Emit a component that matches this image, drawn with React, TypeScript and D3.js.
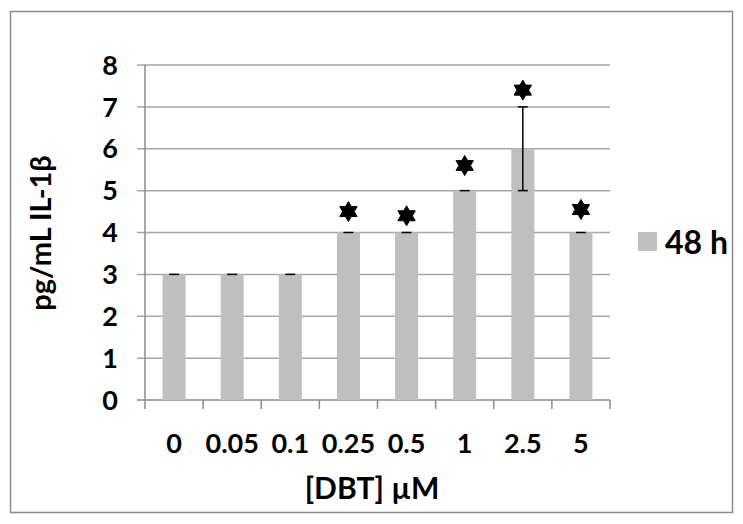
import React, { useEffect, useRef } from "react";
import * as d3 from "d3";

// chart values
const doses = ["0", "0.05", "0.1", "0.25", "0.5", "1", "2.5", "5"];
const values = [3, 3, 3, 4, 4, 5, 6, 4];
const errors = [0, 0, 0, 0, 0, 0, 1, 0];
// star marker heights (in y units), null = no star
const stars = [null, null, null, 4.5, 4.4, 5.6, 7.4, 4.55];
const yTicks = [0, 1, 2, 3, 4, 5, 6, 7, 8];
const seriesName = "48 h";

const FONT = "Lato, 'Open Sans', sans-serif";

export default function App() {
  const ref = useRef<SVGSVGElement>(null);

  useEffect(() => {
    const svg = d3.select(ref.current);
    svg.selectAll("*").remove();

    const left = 145,
      right = 610,
      top = 65,
      bottom = 400;

    // Outer frame
    svg
      .append("rect")
      .attr("x", 10.5)
      .attr("y", 11.5)
      .attr("width", 722)
      .attr("height", 501)
      .attr("fill", "white")
      .attr("stroke", "#8c8c8c")
      .attr("stroke-width", 1.5);

    const x = d3.scaleBand().domain(doses).range([left, right]).paddingInner(0);
    const y = d3.scaleLinear().domain([0, 8]).range([bottom, top]);

    // Gridlines with tick extensions
    svg
      .append("g")
      .selectAll("line")
      .data(yTicks)
      .join("line")
      .attr("x1", left - 8)
      .attr("x2", right)
      .attr("y1", (d) => y(d))
      .attr("y2", (d) => y(d))
      .attr("stroke", (d) => (d === 0 ? "#8c8c8c" : "#a6a6a6"))
      .attr("stroke-width", 1.5);

    // Y axis line
    svg
      .append("line")
      .attr("x1", left)
      .attr("x2", left)
      .attr("y1", top)
      .attr("y2", bottom)
      .attr("stroke", "#8c8c8c")
      .attr("stroke-width", 1.5);

    // X axis ticks at band boundaries
    const bounds = doses.map((d) => x(d)!).concat([right]);
    svg
      .append("g")
      .selectAll("line")
      .data(bounds)
      .join("line")
      .attr("x1", (d) => d)
      .attr("x2", (d) => d)
      .attr("y1", bottom)
      .attr("y2", bottom + 9)
      .attr("stroke", "#8c8c8c")
      .attr("stroke-width", 1.5);

    // Y tick labels
    svg
      .append("g")
      .selectAll("text")
      .data(yTicks)
      .join("text")
      .attr("x", 118)
      .attr("y", (d) => y(d))
      .attr("dy", "0.36em")
      .attr("text-anchor", "end")
      .attr("font-family", FONT)
      .attr("font-weight", "bold")
      .attr("font-size", 27)
      .text((d) => d);

    // X tick labels
    svg
      .append("g")
      .selectAll("text")
      .data(doses)
      .join("text")
      .attr("x", (d) => x(d)! + x.bandwidth() / 2)
      .attr("y", 453)
      .attr("text-anchor", "middle")
      .attr("font-family", FONT)
      .attr("font-weight", "bold")
      .attr("font-size", 27)
      .text((d) => d);

    // Axis titles
    svg
      .append("text")
      .attr("x", 372)
      .attr("y", 499)
      .attr("text-anchor", "middle")
      .attr("font-family", FONT)
      .attr("font-weight", "bold")
      .attr("font-size", 30)
      .text("[DBT] µM");

    svg
      .append("text")
      .attr("transform", "translate(51, 233) rotate(-90)")
      .attr("text-anchor", "middle")
      .attr("font-family", FONT)
      .attr("font-weight", "bold")
      .attr("font-size", 29)
      .text("pg/mL IL-1β");

    // Bars
    const barW = 23;
    svg
      .append("g")
      .selectAll("rect")
      .data(values)
      .join("rect")
      .attr("x", (d, i) => x(doses[i])! + x.bandwidth() / 2 - barW / 2)
      .attr("y", (d) => y(d))
      .attr("width", barW)
      .attr("height", (d) => y(0) - y(d))
      .attr("fill", "#bfbfbf");

    // Error bars
    const eb = svg.append("g").attr("stroke", "black").attr("stroke-width", 1.5);
    values.forEach((v, i) => {
      const cx = x(doses[i])! + x.bandwidth() / 2;
      const e = errors[i];
      if (e > 0) {
        eb.append("line")
          .attr("x1", cx)
          .attr("x2", cx)
          .attr("y1", y(v - e))
          .attr("y2", y(v + e));
        eb.append("line")
          .attr("x1", cx - 5)
          .attr("x2", cx + 5)
          .attr("y1", y(v - e))
          .attr("y2", y(v - e));
      }
      eb.append("line")
        .attr("x1", cx - 5)
        .attr("x2", cx + 5)
        .attr("y1", y(v + e))
        .attr("y2", y(v + e));
    });

    // Six-pointed star markers
    const pts: [number, number][] = d3.range(12).map((k) => [
      (k * Math.PI) / 6,
      k % 2 === 0 ? 10 : 5.8,
    ]);
    const starPath = d3.lineRadial().curve(d3.curveLinearClosed)(pts);
    svg
      .append("g")
      .selectAll("path")
      .data(stars.map((s, i) => ({ s, i })).filter((d) => d.s !== null))
      .join("path")
      .attr("d", starPath)
      .attr(
        "transform",
        (d) => `translate(${x(doses[d.i])! + x.bandwidth() / 2}, ${y(d.s as number)})`
      )
      .attr("fill", "black")
      .attr("stroke", "black")
      .attr("stroke-width", 1)
      .attr("stroke-linejoin", "round");

    // Legend
    svg
      .append("rect")
      .attr("x", 638)
      .attr("y", 232)
      .attr("width", 19)
      .attr("height", 19)
      .attr("fill", "#bfbfbf");
    svg
      .append("text")
      .attr("x", 665)
      .attr("y", 242)
      .attr("dy", "0.36em")
      .attr("font-family", FONT)
      .attr("font-weight", "bold")
      .attr("font-size", 32)
      .text(seriesName);
  }, []);

  return (
    <svg
      ref={ref}
      width={743}
      height={524}
      style={{ position: "absolute", left: 0, top: 0 }}
    />
  );
}
